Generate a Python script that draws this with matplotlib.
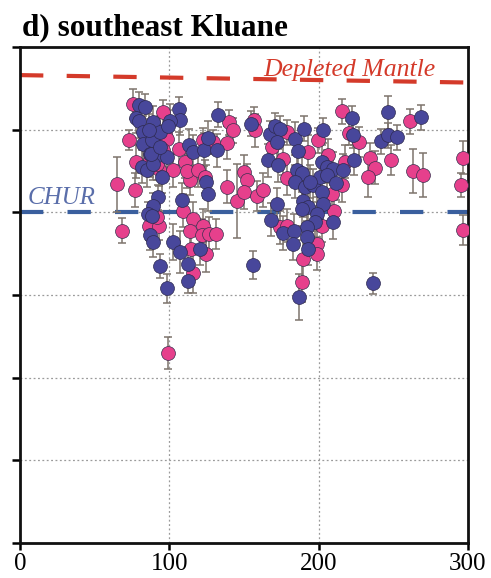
import matplotlib
matplotlib.use("Agg")
import matplotlib.pyplot as plt
import numpy as np

# ---- data (age in Ma, epsilon Hf, 2-sigma error) ----
pink_age = [65.2, 68.5, 73.2, 77.0, 75.5, 78.0, 91.5, 93.0, 96.0, 102.2, 106.7, 110.5,
            113.8, 112.0, 119.4, 123.9, 122.8, 129.5, 140.2, 142.9, 138.4, 138.8, 145.5,
            150.0, 151.8, 150.2, 158.9, 162.9, 156.7, 157.4, 168.5, 178.8, 199.3, 193.1,
            206.5, 217.6, 178.6, 215.4, 209.2, 210.5, 202.0, 174.1, 178.6, 198.7, 199.1,
            189.7, 188.6, 176.3, 86.6, 93.3, 91.5, 109.0, 115.6, 113.8, 122.8, 121.7,
            126.8, 131.3, 114.3, 124.6, 116.1, 99.3, 215.4, 220.5, 227.2, 234.4, 237.7,
            232.8, 248.4, 261.2, 263.4, 270.1, 296.4, 295.1, 296.9, 97.1, 91.5, 98.2,
            96.0, 91.5, 87.0]
pink_ehf = [3.4, -2.2, 8.8, 2.7, 13.1, 6.1, 7.9, 5.2, 12.1, 5.1, 7.7, 6.1,
            3.9, 5.0, 5.1, 4.3, 8.7, 8.5, 10.9, 9.9, 8.4, 3.1, 1.4,
            4.9, 3.9, 2.4, 2.0, 2.7, 11.2, 9.9, 7.9, 9.7, 8.7, 7.3,
            6.9, 6.1, 4.1, 3.3, 2.2, 0.2, -1.6, -1.8, -1.6, -3.8, -5.0,
            -5.6, -8.4, 6.5, -1.6, -1.6, -0.6, 0.2, -0.8, -2.2, -1.6, -2.8,
            -2.6, -2.6, -4.4, -5.0, -7.3, -17.0, 12.2, 9.6, 8.5, 6.6, 5.4,
            4.3, 6.3, 11.0, 5.0, 4.5, 6.6, 3.3, -2.1, 9.5, 8.7, 8.9,
            7.5, 5.9, 6.3]
pink_err = [3.3, 1.5, 1.2, 2.0, 1.8, 2.0, 2.0, 2.0, 1.5, 2.0, 2.0, 2.0,
            1.8, 2.0, 2.0, 2.0, 1.5, 1.5, 1.5, 1.5, 2.0, 2.0, 4.5,
            2.0, 2.0, 2.0, 1.8, 2.0, 1.5, 2.0, 2.0, 1.5, 1.5, 2.0,
            2.0, 2.0, 2.0, 2.0, 2.0, 2.0, 2.0, 2.0, 2.0, 2.0, 2.0,
            2.2, 2.5, 2.0, 1.8, 1.8, 1.5, 2.0, 2.0, 2.0, 2.0, 2.0,
            2.0, 1.8, 2.0, 2.2, 2.5, 1.9, 1.5, 1.5, 1.8, 1.8, 2.0,
            2.5, 1.8, 1.5, 2.7, 2.7, 2.0, 1.5, 1.8, 2.0, 2.0, 2.0,
            2.0, 2.0, 2.0]

blue_age = [80.0, 83.7, 77.7, 80.0, 82.6, 89.3, 106.7, 107.1, 82.6, 88.2, 93.8, 100.4,
            86.7, 99.4, 87.0, 92.6, 98.2, 81.5, 84.8, 89.3, 94.9, 87.7, 93.8, 113.4,
            115.6, 124.6, 126.1, 123.2, 126.1, 132.1, 132.8, 92.2, 88.8, 85.9, 88.2,
            87.0, 89.3, 93.8, 98.2, 108.3, 102.7, 107.1, 120.5, 112.7, 112.7, 154.5,
            167.4, 170.7, 174.1, 172.3, 166.1, 172.8, 184.2, 190.2, 202.7, 186.4, 202.0,
            205.4, 209.8, 216.5, 185.3, 188.6, 184.2, 190.8, 196.4, 200.9, 205.4, 211.6,
            202.0, 194.2, 189.7, 193.1, 203.1, 198.7, 188.6, 209.4, 197.5, 192.4, 175.9,
            168.3, 172.1, 183.5, 191.9, 183.0, 193.1, 186.8, 156.3, 222.1, 223.2, 223.7,
            246.7, 241.5, 246.7, 252.7, 268.3, 236.2]
blue_ehf = [13.0, 12.8, 11.4, 11.0, 9.7, 10.9, 12.5, 11.2, 8.3, 8.7, 9.7, 11.1,
            9.9, 10.4, 7.1, 6.9, 6.7, 5.5, 5.1, 5.9, 4.3, 7.1, 7.9, 8.1,
            7.3, 3.7, 2.2, 7.6, 9.0, 7.5, 11.8, 1.8, 0.8, -0.2, -0.4,
            -2.8, -3.6, -6.5, -9.2, 1.5, -3.6, -4.8, -4.4, -6.2, -8.3, 10.7,
            9.5, 10.5, 10.1, 8.5, 6.3, 5.7, 8.9, 10.1, 9.9, 7.4, 6.1,
            5.5, 5.3, 5.1, 5.1, 4.7, 3.7, 3.1, 3.3, 4.3, 4.5, 3.5,
            2.5, 3.7, 1.4, 0.6, 1.0, -0.2, 0.4, -1.2, -1.2, -1.8, -2.5,
            -0.9, 1.0, -2.2, -3.0, -3.8, -4.4, -10.2, -6.4, 11.4, 9.3, 6.3,
            12.1, 8.6, 9.3, 9.1, 11.5, -8.6]
blue_err = [1.5, 1.5, 1.8, 2.0, 2.0, 2.0, 1.5, 1.8, 2.0, 2.0, 2.0, 2.0,
            2.0, 2.0, 2.0, 2.0, 2.0, 2.0, 2.0, 2.0, 2.0, 2.0, 2.0, 2.0,
            2.0, 2.0, 2.0, 2.0, 2.0, 2.0, 1.5, 1.5, 1.5, 1.5, 1.5,
            1.8, 1.8, 1.5, 1.8, 2.0, 2.2, 2.5, 2.0, 2.0, 1.5, 1.5,
            1.5, 1.5, 1.5, 2.0, 2.0, 2.0, 2.0, 1.5, 1.5, 2.0, 2.0,
            2.0, 2.0, 2.0, 2.0, 2.0, 2.0, 2.0, 2.0, 2.0, 2.0, 2.0,
            2.0, 2.0, 2.0, 2.0, 2.0, 2.0, 2.0, 2.0, 2.0, 2.0, 2.0,
            2.0, 2.0, 2.0, 2.0, 2.0, 2.0, 2.8, 1.7, 1.5, 1.5, 1.8,
            2.0, 1.5, 1.5, 1.5, 1.5, 1.3]

dm_age = [0, 300]
dm_ehf = [16.6, 15.7]
chur_ehf = 0.0

title = "d) southeast Kluane"
xticks = [0, 100, 200, 300]
yticks = [-40, -30, -20, -10, 0, 10, 20]

PINK = "#e6408c"
BLUE = "#48479b"
ERRC = "#7d746c"

serif = ["Liberation Serif", "DejaVu Serif"]

fig = plt.figure(figsize=(4.91, 5.78), dpi=100)
ax = fig.add_axes([20/491, 35/578, 448/491, 496/578])

ax.set_xlim(0, 300)
ax.set_ylim(-40, 20)

# grid
for gx in [100, 200]:
    ax.axvline(gx, color="#9a9a9a", lw=0.9, ls=(0, (1.5, 2.0)), zorder=0)
for gy in [-30, -20, -10, 0, 10]:
    ax.axhline(gy, color="#9a9a9a", lw=0.9, ls=(0, (1.5, 2.0)), zorder=0)

# reference lines
ax.plot(dm_age, dm_ehf, color="#d43a2a", lw=3.0, dashes=(5.6, 5.6), zorder=1)
ax.plot([0, 300], [chur_ehf, chur_ehf], color="#3a5f9e", lw=3.0, dashes=(5.6, 5.8), zorder=1)

# error bars for both groups
ax.errorbar(pink_age + blue_age, pink_ehf + blue_ehf, yerr=pink_err + blue_err,
            fmt="none", ecolor=ERRC, elinewidth=1.1, capsize=3, capthick=1.1, zorder=2)
# markers: pink underneath, blue on top
ax.scatter(pink_age, pink_ehf, s=100, c=PINK, edgecolors="#3a3050",
           linewidths=0.5, zorder=3)
ax.scatter(blue_age, blue_ehf, s=100, c=BLUE, edgecolors="#2e2a50",
           linewidths=0.5, zorder=4)

ax.text(278, 16.5, "Depleted Mantle", color="#d43a2a", fontsize=18.5, style="italic",
        family=serif, ha="right", va="baseline", zorder=5)
ax.text(5, 0.4, "CHUR", color="#5a6eaa", fontsize=18, style="italic",
        family=serif, ha="left", va="bottom", zorder=5)

ax.set_xticks(xticks)
ax.set_xticklabels([str(t) for t in xticks], family=serif, fontsize=18)
ax.set_yticks(yticks)
ax.set_yticklabels([])
ax.tick_params(axis="both", direction="out", length=5, width=1.8, pad=2)
ax.tick_params(axis="y", length=6)

for sp in ax.spines.values():
    sp.set_linewidth(2.0)
    sp.set_color("#111111")

fig.text(22/491, 1 - 28/578, title, fontsize=22.5, fontweight="bold", family=serif,
         ha="left", va="center")

fig.savefig("out.png", dpi=100)
